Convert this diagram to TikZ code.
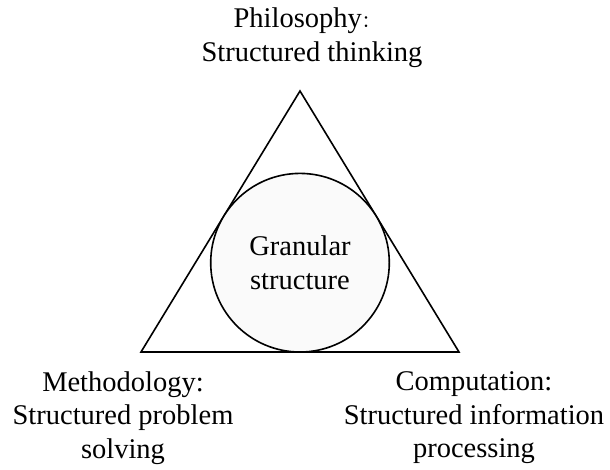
\documentclass[tikz,border=0pt]{standalone}
\usepackage{fontspec}
\setmainfont{Liberation Serif}
\newfontfamily\cjk{Noto Sans CJK SC}

\begin{document}
\begin{tikzpicture}[x=1pt,y=-1pt,
	label text/.style={align=center,inner sep=0pt,font=\fontsize{28.5}{33.5}\selectfont},
	granule/.style={circle,draw,line width=1.6pt,fill=white!98!black,minimum size=178.6pt,inner sep=0pt,align=center,font=\fontsize{28.5}{34}\selectfont}]
	\useasboundingbox (0,0) rectangle (610,469);
	\coordinate (apex) at (300,91);
	\coordinate (baseL) at (141,352);
	\coordinate (baseR) at (459,352);
	\draw[line width=1.6pt,line join=miter] (apex) -- (baseL) -- (baseR) -- cycle;
	\node[granule] (granule) at (300,262.7) {Granular\\structure};
	\node[label text,font=\fontsize{28.5}{34}\selectfont] (philosophy) at (312,38) {Philosophy\makebox[1em][l]{\cjk\fontsize{17}{17}\selectfont ：}\\Structured thinking};
	\node[label text] (methodology) at (123,418) {Methodology:\\Structured problem\\solving};
	\node[label text] (computation) at (474,418) {Computation:\\Structured information\\processing};
\end{tikzpicture}
\end{document}
